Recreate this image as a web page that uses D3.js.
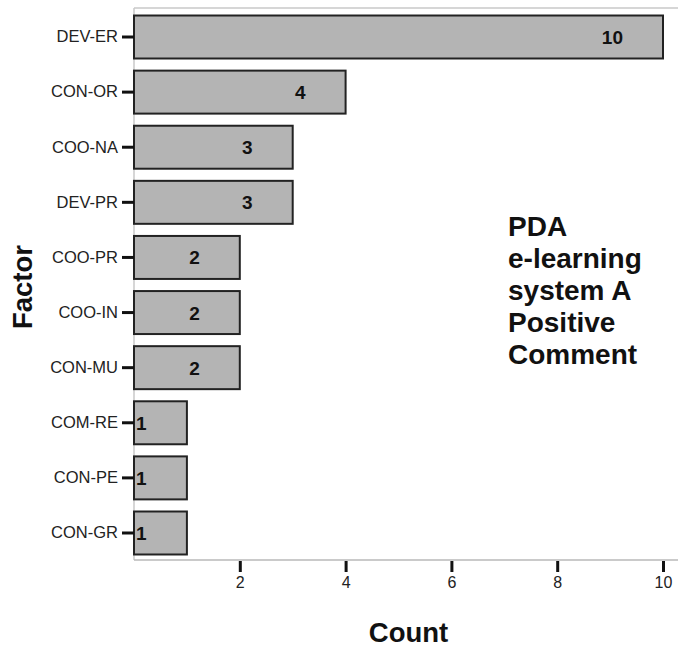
<!DOCTYPE html>
<html>
  <head>
    <title>PDA e-learning system A positive comment</title>
    <style>
      body { margin: 0; background: #fff; }
      svg text { font-family: "Liberation Sans", Arial, sans-serif; }
    </style>
  </head>
  <body>
    <script src="https://d3js.org/d3.v7.min.js"></script>
    <script>
      const factors = ["DEV-ER", "CON-OR", "COO-NA", "DEV-PR", "COO-PR", "COO-IN", "CON-MU", "COM-RE", "CON-PE", "CON-GR"];
      const counts = [10, 4, 3, 3, 2, 2, 2, 1, 1, 1];
      const xTicks = [2, 4, 6, 8, 10];
      const noteLines = ["PDA", "e-learning", "system A", "Positive", "Comment"];

      const width = 678, height = 650;
      const plotLeft = 134, plotRight = 663, plotTop = 8, plotBottom = 560;

      const svg = d3.select("body").append("svg")
        .attr("width", width)
        .attr("height", height);

      const x = d3.scaleLinear().domain([0, 10]).range([plotLeft, plotRight]);
      const y = d3.scaleBand().domain(factors).range([plotTop + 2, plotBottom])
        .paddingInner(0.22).paddingOuter(0.1);

      // light frame lines
      svg.append("line").attr("x1", plotLeft).attr("x2", width).attr("y1", plotTop).attr("y2", plotTop)
        .attr("stroke", "#c8c8c8").attr("stroke-width", 1.5);
      svg.append("line").attr("x1", plotLeft).attr("x2", plotLeft).attr("y1", plotTop).attr("y2", plotBottom)
        .attr("stroke", "#c8c8c8").attr("stroke-width", 1.5);
      svg.append("line").attr("x1", plotLeft).attr("x2", width).attr("y1", plotBottom).attr("y2", plotBottom)
        .attr("stroke", "#b8b8b8").attr("stroke-width", 1.5);

      const data = factors.map((f, i) => ({ f: f, v: counts[i] }));

      svg.selectAll("rect.bar")
        .data(data)
        .enter()
        .append("rect")
        .attr("class", "bar")
        .attr("x", x(0))
        .attr("y", (d) => y(d.f))
        .attr("width", (d) => x(d.v) - x(0))
        .attr("height", y.bandwidth())
        .attr("fill", "#b4b4b4")
        .attr("stroke", "#222")
        .attr("stroke-width", 2);

      svg.selectAll("text.val")
        .data(data)
        .enter()
        .append("text")
        .attr("class", "val")
        .attr("x", (d) => d.v === 1 ? x(0) + 2 : x(d.v) - 40)
        .attr("y", (d) => y(d.f) + y.bandwidth() / 2 + 7)
        .attr("text-anchor", (d) => d.v === 1 ? "start" : "end")
        .attr("font-size", 19)
        .attr("font-weight", "bold")
        .attr("fill", "#111")
        .text((d) => d.v);

      // y axis
      const yAxis = svg.append("g")
        .attr("transform", `translate(${plotLeft},0)`)
        .call(d3.axisLeft(y).tickSize(12).tickPadding(4));
      yAxis.select(".domain").remove();
      yAxis.selectAll(".tick line").attr("stroke", "#111").attr("stroke-width", 3);
      yAxis.selectAll(".tick text").attr("font-size", 16.5).attr("fill", "#222");

      // x axis
      const xAxis = svg.append("g")
        .attr("transform", `translate(0,${plotBottom + 1})`)
        .call(d3.axisBottom(x).tickValues(xTicks).tickSize(11).tickPadding(5));
      xAxis.select(".domain").remove();
      xAxis.selectAll(".tick line").attr("stroke", "#111").attr("stroke-width", 3);
      xAxis.selectAll(".tick text").attr("font-size", 16).attr("fill", "#222");

      // axis titles
      svg.append("text")
        .attr("x", (plotLeft + plotRight) / 2 + 10)
        .attr("y", 642)
        .attr("text-anchor", "middle")
        .attr("font-size", 27.5)
        .attr("font-weight", "bold")
        .attr("fill", "#111")
        .text("Count");

      svg.append("text")
        .attr("transform", "translate(32,287) rotate(-90)")
        .attr("text-anchor", "middle")
        .attr("font-size", 27.5)
        .attr("font-weight", "bold")
        .attr("fill", "#111")
        .text("Factor");

      // note
      svg.append("g").selectAll("text")
        .data(noteLines)
        .enter()
        .append("text")
        .attr("x", 508)
        .attr("y", (d, i) => 236 + i * 32)
        .attr("font-size", 28)
        .attr("font-weight", "bold")
        .attr("fill", "#111")
        .text((d) => d);
    </script>
  </body>
</html>
